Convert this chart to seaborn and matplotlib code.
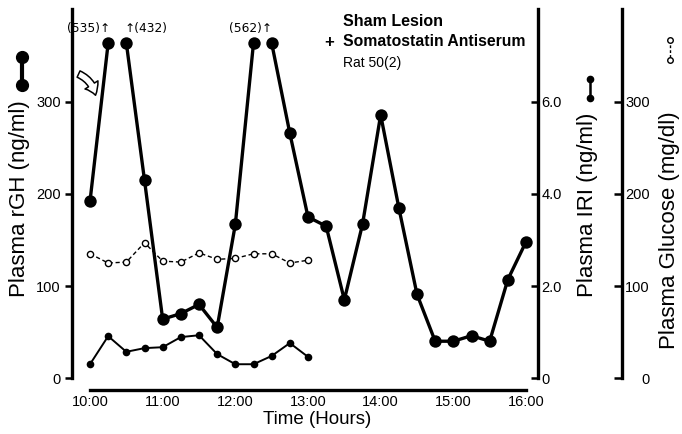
import matplotlib
matplotlib.use("Agg")
import matplotlib.pyplot as plt
import seaborn as sns
import pandas as pd
from matplotlib.patches import FancyArrowPatch
from matplotlib.lines import Line2D

# ---------------- data ----------------
rgh_times = ["10:00", "10:15", "10:30", "10:45", "11:00", "11:15", "11:30", "11:45",
             "12:00", "12:15", "12:30", "12:45", "13:00", "13:15", "13:30", "13:45",
             "14:00", "14:15", "14:30", "14:45", "15:00", "15:15", "15:30", "15:45", "16:00"]
rgh_values = [192, 535, 432, 215, 64, 70, 80, 55,
              167, 562, 364, 266, 175, 165, 85, 167,
              286, 185, 91, 40, 40, 46, 40, 107, 148]
short_times = ["10:00", "10:15", "10:30", "10:45", "11:00", "11:15", "11:30",
               "11:45", "12:00", "12:15", "12:30", "12:45", "13:00"]
iri_values = [0.30, 0.91, 0.57, 0.65, 0.67, 0.89, 0.93, 0.52, 0.30, 0.30, 0.48, 0.76, 0.46]
glucose_values = [135, 125, 126, 147, 127, 126, 136, 129, 130, 135, 135, 125, 128]
offscale_labels = {"10:15": "(535)↑", "10:30": "↑(432)", "12:15": "(562)↑"}
hour_ticks = ["10:00", "11:00", "12:00", "13:00", "14:00", "15:00", "16:00"]
rgh_ticks = [0, 100, 200, 300]
iri_ticks = [0, 2, 4, 6]
iri_tick_labels = ["0", "2.0", "4.0", "6.0"]
glu_ticks = [0, 100, 200, 300]
CAP = 364  # drawing ceiling for off-scale rGH values


def hours(s):
    h, m = s.split(":")
    return int(h) + int(m) / 60.0


t_rgh = [hours(s) for s in rgh_times]
t_short = [hours(s) for s in short_times]
rgh_disp = [min(v, CAP) for v in rgh_values]
off = [v >= CAP for v in rgh_values]
seg, segs = 0, []
for i in range(len(t_rgh)):
    if i > 0 and off[i] and off[i - 1]:
        seg += 1
    segs.append(seg)
df_rgh = pd.DataFrame({"t": t_rgh, "v": rgh_disp, "seg": segs})
df_short = pd.DataFrame({"t": t_short, "iri": iri_values, "glu": glucose_values})

# ---------------- style ----------------
sns.set_style("white")
FONT = ["Liberation Sans", "DejaVu Sans"]
plt.rcParams["font.family"] = FONT
plt.rcParams["text.color"] = "black"
plt.rcParams["axes.labelcolor"] = "black"
plt.rcParams["axes.edgecolor"] = "black"
plt.rcParams["xtick.color"] = "black"
plt.rcParams["ytick.color"] = "black"

W, H = 682, 434
fig = plt.figure(figsize=(W / 100, H / 100), dpi=100)
fig.patch.set_facecolor("white")


def fx(x):
    return x / W


def fy(y):
    return (H - y) / H


AX_L, AX_R, AX_T, AX_B = 72, 538, 9, 390
ax = fig.add_axes([fx(AX_L), fy(AX_B), (AX_R - AX_L) / W, (AX_B - AX_T) / H])
ax.patch.set_alpha(0)
px_per_hr = (526 - 90) / 6.0
ax.set_xlim(10 - (90 - AX_L) / px_per_hr, 16 + (AX_R - 526) / px_per_hr)
ylo, yhi = -13, 401
ax.set_ylim(ylo, yhi)

SPW = 2.4
TICKFS = 10.5
for s in ["top", "right"]:
    ax.spines[s].set_visible(False)
ax.spines["left"].set_linewidth(SPW)
ax.spines["bottom"].set_linewidth(SPW)
ax.spines["left"].set_bounds(0, yhi)
ax.spines["bottom"].set_bounds(10, 16)

ax.set_xticks([hours(s) for s in hour_ticks])
ax.set_xticklabels(hour_ticks)
ax.tick_params(axis="x", direction="in", length=8, width=1.8, labelsize=TICKFS, pad=3.5)
ax.set_yticks(rgh_ticks)
ax.set_yticklabels([str(v) for v in rgh_ticks])
ax.tick_params(axis="y", direction="out", length=5, width=1.8, labelsize=TICKFS, pad=3)
ax.set_yticks([0], minor=True)
ax.tick_params(axis="y", which="minor", direction="in", length=6, width=1.8)
ax.yaxis.get_major_ticks()[0].tick1line.set_visible(False)

# IRI axis
ax2 = ax.twinx()
ax2.set_ylim(ylo / 50, yhi / 50)
for s in ["top", "left", "bottom"]:
    ax2.spines[s].set_visible(False)
ax2.spines["right"].set_linewidth(SPW)
ax2.spines["right"].set_bounds(0, yhi / 50)
ax2.set_yticks(iri_ticks)
ax2.set_yticklabels(iri_tick_labels)
ax2.tick_params(axis="y", direction="in", length=5, width=1.8, labelsize=TICKFS, pad=2.5)

# Glucose axis
ax3 = ax.twinx()
ax3.set_ylim(ylo, yhi)
for s in ["top", "left", "bottom"]:
    ax3.spines[s].set_visible(False)
ax3.spines["right"].set_position(("axes", (622 - AX_L) / (AX_R - AX_L)))
ax3.spines["right"].set_linewidth(SPW)
ax3.spines["right"].set_bounds(0, yhi)
ax3.set_yticks(glu_ticks)
ax3.set_yticklabels([str(v) for v in glu_ticks])
ax3.tick_params(axis="y", direction="in", length=6, width=1.8, labelsize=TICKFS, pad=20)
for lab in ax3.get_yticklabels():
    lab.set_horizontalalignment("right")

# ---------------- series ----------------
sns.lineplot(data=df_rgh, x="t", y="v", units="seg", estimator=None, sort=False,
             color="black", linewidth=2.4, ax=ax, legend=False)
sns.scatterplot(data=df_rgh, x="t", y="v", color="black", s=80, linewidth=0,
                ax=ax, zorder=4, legend=False)

sns.lineplot(data=df_short, x="t", y="iri", color="black", linewidth=1.4,
             marker="o", markersize=5.5, markeredgewidth=0, ax=ax2, legend=False)

sns.lineplot(data=df_short, x="t", y="glu", color="black", linewidth=1.0,
             ax=ax3, legend=False)
ax3.lines[-1].set_dashes((3, 2))
sns.scatterplot(data=df_short, x="t", y="glu", color="white", edgecolor="black",
                s=20, linewidth=1.0, ax=ax3, zorder=5, legend=False)
for a in (ax, ax2, ax3):
    a.set_xlabel("")
    a.set_ylabel("")

# off-scale annotations
ANN_FONT = ["DejaVu Sans Condensed", "DejaVu Sans"]
for key, txt in offscale_labels.items():
    x = hours(key)
    if txt.endswith("↑"):
        ax.text(x + (0.03 if key != "12:15" else 0.25), 380, txt, ha="right", va="center",
                fontsize=8.8, family=ANN_FONT)
    else:
        ax.text(x - 0.02, 380, txt, ha="left", va="center", fontsize=8.8, family=ANN_FONT)

# hollow curved arrow
arr = FancyArrowPatch((fx(76), fy(73)), (fx(96), fy(98)), transform=fig.transFigure,
                      arrowstyle="simple,head_length=8,head_width=11,tail_width=5",
                      connectionstyle="arc3,rad=-0.3", mutation_scale=1,
                      facecolor="white", edgecolor="black", linewidth=1.1)
fig.patches.append(arr)

# ---------------- texts ----------------
fig.text(fx(20), fy(199), "Plasma rGH (ng/ml)", rotation=90, ha="center", va="center", fontsize=16)
fig.text(fx(588), fy(205), "Plasma IRI (ng/ml)", rotation=90, ha="center", va="center", fontsize=16)
fig.text(fx(669), fy(230), "Plasma Glucose (mg/dl)", rotation=90, ha="center", va="center", fontsize=16)
fig.text(fx(317), fy(419), "Time (Hours)", ha="center", va="center", fontsize=13.5)

fig.text(fx(343), fy(21), "Sham Lesion", ha="left", va="center", fontsize=11.5, fontweight="bold")
fig.text(fx(329), fy(42), "+", ha="center", va="center", fontsize=12, fontweight="bold")
fig.text(fx(343), fy(42), "Somatostatin Antiserum", ha="left", va="center", fontsize=11.3, fontweight="bold")
fig.text(fx(343), fy(63), "Rat 50(2)", ha="left", va="center", fontsize=10)

# legend keys next to axis labels
fig.add_artist(Line2D([fx(22), fx(22)], [fy(57), fy(85)], transform=fig.transFigure,
                      color="black", linewidth=3, marker="o", markersize=8.5))
fig.add_artist(Line2D([fx(590), fx(590)], [fy(79), fy(98)], transform=fig.transFigure,
                      color="black", linewidth=1.8, marker="o", markersize=4.5))
fig.add_artist(Line2D([fx(670), fx(670)], [fy(40), fy(60)], transform=fig.transFigure,
                      color="black", linewidth=1.0, linestyle=(0, (2, 1.5)), marker="o",
                      markersize=4, markerfacecolor="white", markeredgewidth=1.0))

fig.savefig("out.png", dpi=100, facecolor="white")
